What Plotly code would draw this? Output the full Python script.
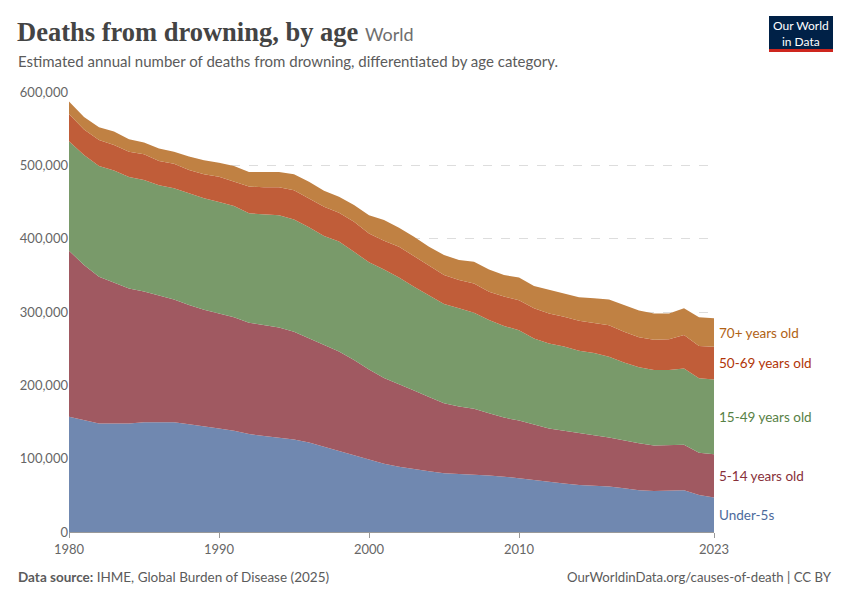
import plotly.graph_objects as go

years = list(range(1980, 2024))

under5 = [157000, 152000, 148000, 148000, 148000, 149500, 149500, 149500, 147000, 143600,
          141000, 138000, 133600, 131000, 129000, 126000, 122000, 116000, 111000, 104500,
          98500, 93000, 89000, 85500, 82700, 80000, 79000, 79000, 77000, 75500,
          73000, 70000, 67700, 66000, 64000, 63000, 62000, 59500, 57000, 56000,
          57000, 57000, 50500, 47000]
age5_14 = [226600, 212000, 200000, 192000, 184000, 178500, 172500, 167500, 162500, 159400,
           157000, 155000, 151900, 151000, 150000, 147000, 142000, 139000, 135000, 130000,
           123000, 117000, 113000, 107500, 101300, 95500, 92000, 89000, 85000, 80500,
           79000, 76000, 73300, 72000, 70500, 69000, 67000, 65000, 64000, 62000,
           62000, 62000, 57500, 59000]
age15_49 = [149400, 150000, 151000, 153000, 152000, 152000, 151000, 151600, 152500, 152000,
            152000, 151500, 149000, 151000, 153000, 153000, 151500, 148600, 150000, 147500,
            146500, 148000, 145000, 141500, 139000, 135500, 134000, 131000, 127000, 125000,
            123000, 118000, 116000, 115000, 112500, 112000, 110000, 106500, 103500, 103000,
            102000, 104000, 101500, 102000]
age50_69 = [37000, 35000, 35500, 34700, 34600, 35000, 33000, 33400, 31600, 33000,
            34500, 33200, 36500, 37000, 38000, 40000, 39500, 40000, 39500, 41000,
            39000, 39000, 42000, 41500, 40000, 39500, 38600, 40000, 38700, 40000,
            41000, 41000, 41000, 40600, 41000, 40500, 43000, 42000, 41000, 41000,
            41700, 45600, 44100, 44700]
age70 = [17000, 17000, 17500, 18300, 16900, 16000, 17000, 16600, 18400, 19000,
         19100, 21300, 20000, 21000, 21000, 22000, 22700, 21900, 21500, 23000,
         25000, 28500, 26000, 26700, 26000, 27200, 27400, 29600, 30300, 29500,
         31000, 30500, 32000, 31900, 32000, 34100, 35000, 36500, 36500, 36000,
         35300, 36400, 39100, 38700]

series_names = ["Under-5s", "5-14 years old", "15-49 years old", "50-69 years old", "70+ years old"]
series_values = [under5, age5_14, age15_49, age50_69, age70]
line_colors = ["#4c6a9c", "#883039", "#578145", "#b13507", "#b16214"]
fill_colors = ["#7088b0", "#a05961", "#799a6a", "#c05d39", "#c08143"]

x_tick_vals = [1980, 1990, 2000, 2010, 2023]
y_tick_vals = [0, 100000, 200000, 300000, 400000, 500000, 600000]

# page offset of the plot div inside the browser window
OFF = 8
W, H = 850 - OFF, 600 - OFF
L, R, T, B = 61, 136, 84, 68
PW, PH = W - L - R, H - T - B


def px(xp):
    return (xp - OFF - L) / PW


def py(yp):
    return (H - B - (yp - OFF)) / PH


fig = go.Figure()
for name, vals, fc in zip(series_names, series_values, fill_colors):
    fig.add_trace(go.Scatter(
        x=years, y=vals, name=name, mode="lines", stackgroup="one",
        line=dict(width=0, color=fc), fillcolor=fc, showlegend=False,
        hoverinfo="skip",
    ))

# right-side labels at the middle of each band in the last year
cum = 0
annotations = []
for name, vals, lc in zip(series_names, series_values, line_colors):
    mid = cum + vals[-1] / 2
    cum += vals[-1]
    annotations.append(dict(
        x=years[-1], y=mid, xref="x", yref="y", text=name, showarrow=False,
        xanchor="left", yanchor="middle", xshift=3,
        font=dict(family="Lato", size=13.5, color=lc),
    ))

annotations += [
    dict(x=px(15), y=py(32), xref="paper", yref="paper", xanchor="left", yanchor="middle",
         showarrow=False,
         text="<b>Deaths from drowning, by age</b> <span style='font-family:Lato;font-size:18px;color:#6e6e6e'>World</span>",
         font=dict(family="Liberation Serif", size=26.5, color="#444444")),
    dict(x=px(16), y=py(61), xref="paper", yref="paper", xanchor="left", yanchor="middle",
         showarrow=False,
         text="Estimated annual number of deaths from drowning, differentiated by age category.",
         font=dict(family="Lato", size=15, color="#5b5b5b")),
    dict(x=px(16), y=py(577), xref="paper", yref="paper", xanchor="left", yanchor="middle",
         showarrow=False,
         text="<b>Data source:</b> IHME, Global Burden of Disease (2025)",
         font=dict(family="Lato", size=13.5, color="#5b5b5b")),
    dict(x=px(834), y=py(577), xref="paper", yref="paper", xanchor="right", yanchor="middle",
         showarrow=False,
         text="OurWorldinData.org/causes-of-death | CC BY",
         font=dict(family="Lato", size=13.2, color="#5b5b5b")),
    dict(x=px(801), y=py(33), xref="paper", yref="paper", xanchor="center", yanchor="middle",
         showarrow=False,
         text="Our World<br>in Data",
         font=dict(family="Lato", size=12, color="#ffffff")),
]

shapes = [
    dict(type="rect", xref="paper", yref="paper", x0=px(769), x1=px(833), y0=py(49), y1=py(16),
         fillcolor="#002147", line=dict(width=0), layer="above"),
    dict(type="rect", xref="paper", yref="paper", x0=px(769), x1=px(833), y0=py(52), y1=py(49),
         fillcolor="#ce261e", line=dict(width=0), layer="above"),
]

fig.update_layout(
    width=W, height=H, autosize=False,
    margin=dict(l=L, r=R, t=T, b=B),
    paper_bgcolor="white", plot_bgcolor="white",
    font=dict(family="Lato", size=13, color="#666666"),
    annotations=annotations, shapes=shapes,
    xaxis=dict(
        range=[1980, 2023], tickvals=x_tick_vals, ticktext=[str(v) for v in x_tick_vals],
        showgrid=False, zeroline=False, showline=True, linecolor="#999999", linewidth=1,
        ticks="outside", ticklen=5, tickcolor="#999999",
        tickfont=dict(family="Lato", size=13, color="#666666"),
    ),
    yaxis=dict(
        range=[0, 600000], tickvals=y_tick_vals, tickformat=",d",
        showgrid=True, gridcolor="#dddddd", griddash="dash", gridwidth=1,
        zeroline=False, showline=False, ticks="",
        tickfont=dict(family="Lato", size=13, color="#666666"),
    ),
)

fig.write_html("out.html")
